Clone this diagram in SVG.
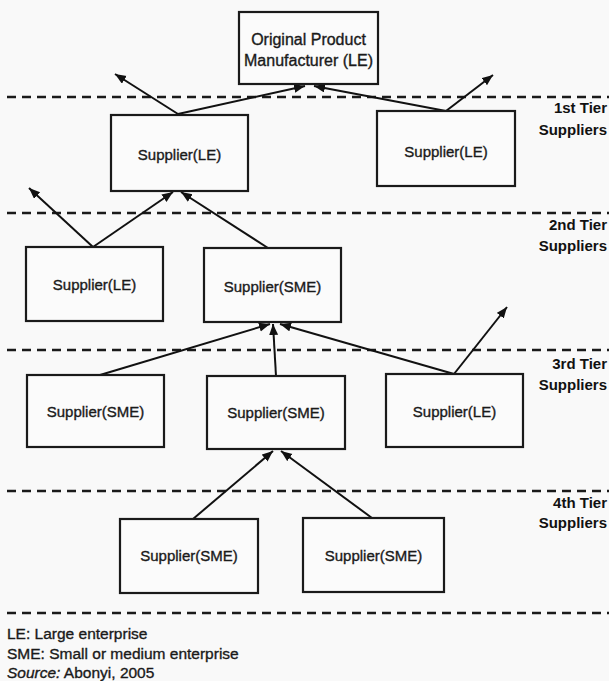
<svg xmlns="http://www.w3.org/2000/svg" width="609" height="681" viewBox="0 0 609 681">
<style>
.bg{fill:#f9f9f9}
.box{fill:#fbfbfb;stroke:#1a1a1a;stroke-width:2.2}
.lbl{font-family:"Liberation Sans",Arial,sans-serif;font-size:15px;fill:#1a1a1a;stroke:#1a1a1a;stroke-width:0.35;text-anchor:middle}
.top{font-size:16px}
.tier{font-family:"Liberation Sans",Arial,sans-serif;font-size:15px;font-weight:bold;fill:#111;text-anchor:end}
.dash{stroke:#1a1a1a;stroke-width:2.6;stroke-dasharray:9 6;fill:none}
.con{stroke:#111;stroke-width:2;fill:none;marker-end:url(#ah)}
.leg{font-family:"Liberation Sans",Arial,sans-serif;font-size:15.5px;fill:#1a1a1a;stroke:#1a1a1a;stroke-width:0.35}
</style>
<defs>
<marker id="ah" markerUnits="userSpaceOnUse" markerWidth="12" markerHeight="10" refX="11" refY="4.5" orient="auto">
<path d="M0,0 L11,4.5 L0,9 Z" fill="#111"/>
</marker>
</defs>
<rect class="bg" x="0" y="0" width="609" height="681"/>

<g id="tier-lines">
<line class="dash" x1="7" y1="97" x2="609" y2="97"/>
<line class="dash" x1="7" y1="213" x2="609" y2="213"/>
<line class="dash" x1="7" y1="350" x2="609" y2="350"/>
<line class="dash" x1="7" y1="491" x2="609" y2="491"/>
<line class="dash" x1="7" y1="613" x2="609" y2="613"/>
</g>

<g id="tier-labels">
<text class="tier" x="607" y="113">1st Tier</text>
<text class="tier" x="607" y="135">Suppliers</text>
<text class="tier" x="607" y="230">2nd Tier</text>
<text class="tier" x="607" y="251">Suppliers</text>
<text class="tier" x="607" y="369">3rd Tier</text>
<text class="tier" x="607" y="390">Suppliers</text>
<text class="tier" x="607" y="508">4th Tier</text>
<text class="tier" x="607" y="528">Suppliers</text>
</g>

<g id="connectors">
<line class="con" x1="178" y1="114" x2="305" y2="86"/>
<line class="con" x1="178" y1="114" x2="115" y2="74"/>
<line class="con" x1="446" y1="111" x2="314" y2="86"/>
<line class="con" x1="446" y1="111" x2="493" y2="75"/>
<line class="con" x1="93" y1="247" x2="173" y2="192"/>
<line class="con" x1="93" y1="247" x2="29" y2="188"/>
<line class="con" x1="268" y1="248" x2="181" y2="192"/>
<line class="con" x1="100" y1="375" x2="270" y2="324"/>
<line class="con" x1="276" y1="376" x2="273" y2="324"/>
<line class="con" x1="454" y1="374" x2="280" y2="324"/>
<line class="con" x1="454" y1="374" x2="507" y2="307"/>
<line class="con" x1="193" y1="519" x2="273" y2="451"/>
<line class="con" x1="372" y1="518" x2="281" y2="451"/>
</g>

<g id="opm">
<rect class="box" x="239" y="12" width="139" height="72"/>
<text class="lbl top" x="308.5" y="45">Original Product</text>
<text class="lbl top" x="308.5" y="66">Manufacturer (LE)</text>
</g>
<g id="t1-le-a">
<rect class="box" x="111" y="115" width="137" height="76"/>
<text class="lbl" x="179.5" y="160">Supplier(LE)</text>
</g>
<g id="t1-le-b">
<rect class="box" x="377" y="111" width="138" height="75"/>
<text class="lbl" x="446" y="157">Supplier(LE)</text>
</g>
<g id="t2-le">
<rect class="box" x="26" y="247" width="137" height="74"/>
<text class="lbl" x="94.5" y="290">Supplier(LE)</text>
</g>
<g id="t2-sme">
<rect class="box" x="204" y="248" width="137" height="74"/>
<text class="lbl" x="272.5" y="292">Supplier(SME)</text>
</g>
<g id="t3-sme-a">
<rect class="box" x="27" y="375" width="137" height="72"/>
<text class="lbl" x="95.5" y="417">Supplier(SME)</text>
</g>
<g id="t3-sme-b">
<rect class="box" x="207" y="376" width="138" height="73"/>
<text class="lbl" x="276" y="418">Supplier(SME)</text>
</g>
<g id="t3-le">
<rect class="box" x="386" y="374" width="137" height="73"/>
<text class="lbl" x="454.5" y="417">Supplier(LE)</text>
</g>
<g id="t4-sme-a">
<rect class="box" x="120" y="519" width="138" height="74"/>
<text class="lbl" x="189" y="561">Supplier(SME)</text>
</g>
<g id="t4-sme-b">
<rect class="box" x="303" y="518" width="141" height="74"/>
<text class="lbl" x="373.5" y="561">Supplier(SME)</text>
</g>

<g id="legend">
<text class="leg" x="7" y="638.5">LE: Large enterprise</text>
<text class="leg" x="7" y="658.5">SME: Small or medium enterprise</text>
<text class="leg" x="7" y="678"><tspan font-style="italic">Source:</tspan> Abonyi, 2005</text>
</g>
</svg>
